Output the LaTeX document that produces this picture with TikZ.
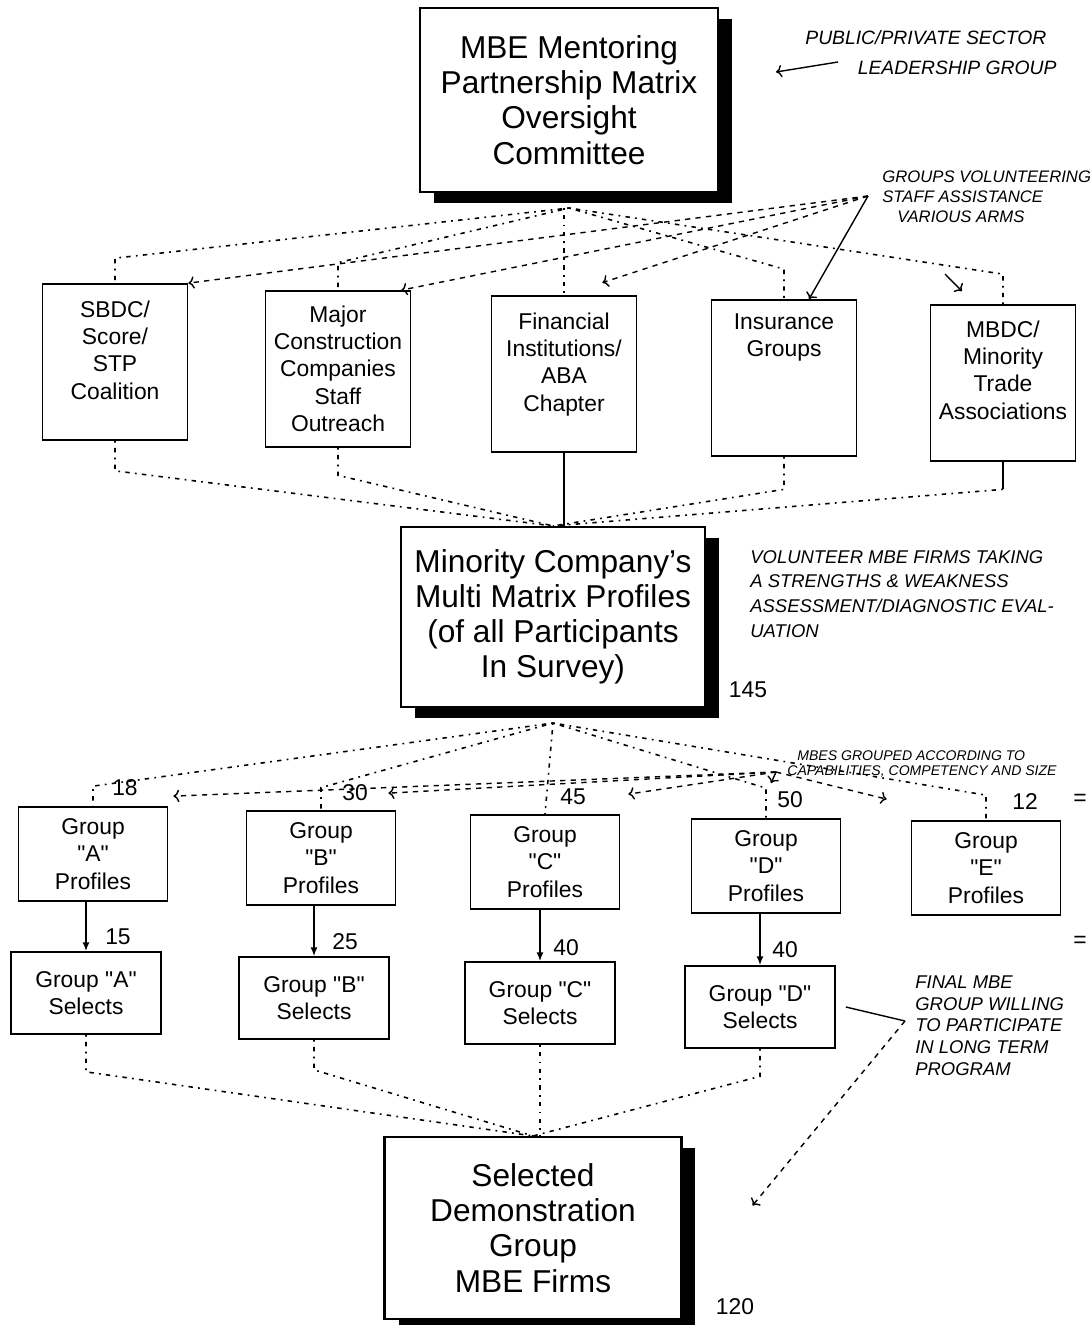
\documentclass[tikz,border=0pt]{standalone}
\usepackage{fontspec}
\setmainfont{Liberation Sans}
\usetikzlibrary{shadows,arrows.meta}
\newcommand\grp[1]{\textquotedbl#1\textquotedbl}

\begin{document}
\begin{tikzpicture}[x=0.02cm, y=-0.02cm,
  bigbox/.style={draw, line width=1.2pt, fill=white, align=center,
    font=\fontsize{18}{20}\selectfont,
    drop shadow={shadow xshift=0.28cm, shadow yshift=-0.22cm, fill=black, opacity=1}},
  tallbox/.style={draw, line width=1pt, fill=white, minimum width=2.9cm, minimum height=3.12cm},
  boxtext/.style={anchor=north, inner sep=0pt, align=center, font=\fontsize{13}{15.6}\selectfont},
  profbox/.style={draw, line width=1pt, fill=white, align=center, minimum width=2.98cm,
    minimum height=1.88cm, font=\fontsize{13}{15.6}\selectfont},
  selbox/.style={draw, line width=1pt, fill=white, align=center, minimum width=3cm,
    minimum height=1.64cm, font=\fontsize{13}{15.6}\selectfont},
  tie/.style={line width=0.9pt, dash pattern=on 1pt off 3pt on 2.5pt off 3pt},
  flow/.style={line width=0.9pt, -{Latex[length=5pt,width=4pt]}},
  scrawl/.style={line width=0.8pt},
  count/.style={font=\fontsize{13}{15}\selectfont},
  note/.style={anchor=north west, inner sep=0pt, align=left, font=\fontsize{10.5}{12.5}\selectfont\itshape}]
\path[use as bounding box, fill=white] (0,0) rectangle (1091,1325);

% boxes
\node[bigbox, minimum width=5.96cm, minimum height=3.68cm] (top) at (569,100)
  {MBE Mentoring\\Partnership Matrix\\Oversight\\Committee};

\node[tallbox] (sbdc) at (115,362) {};
\node[tallbox] (major) at (338,369) {};
\node[tallbox] (fin) at (564,374) {};
\node[tallbox] (ins) at (784,378) {};
\node[tallbox] (mbdc) at (1003,383) {};
\node[boxtext] (sbdc-t) at ([yshift=-0.34cm]sbdc.north) {SBDC/\\Score/\\STP\\Coalition};
\node[boxtext] (major-t) at ([yshift=-0.3cm]major.north) {Major\\Construction\\Companies\\Staff\\Outreach};
\node[boxtext] (fin-t) at ([yshift=-0.34cm]fin.north) {Financial\\Institutions/\\ABA\\Chapter};
\node[boxtext] (ins-t) at ([yshift=-0.28cm]ins.north) {Insurance\\Groups};
\node[boxtext] (mbdc-t) at ([yshift=-0.32cm]mbdc.north) {MBDC/\\Minority\\Trade\\Associations};

\node[bigbox, minimum width=6.08cm, minimum height=3.6cm] (mid) at (553,617)
  {Minority Company's\\Multi Matrix Profiles\\(of all Participants\\In Survey)};

\node[profbox] (gA) at (93,854) {Group\\\grp{A}\\Profiles};
\node[profbox] (gB) at (321,858) {Group\\\grp{B}\\Profiles};
\node[profbox] (gC) at (545,862) {Group\\\grp{C}\\Profiles};
\node[profbox] (gD) at (766,866) {Group\\\grp{D}\\Profiles};
\node[profbox] (gE) at (986,868) {Group\\\grp{E}\\Profiles};

\node[selbox] (sA) at (86,993) {Group \grp{A}\\Selects};
\node[selbox] (sB) at (314,998) {Group \grp{B}\\Selects};
\node[selbox] (sC) at (540,1003) {Group \grp{C}\\Selects};
\node[selbox] (sD) at (760,1007) {Group \grp{D}\\Selects};

\node[bigbox, minimum width=5.94cm, minimum height=3.64cm] (bot) at (533,1228)
  {Selected\\Demonstration\\Group\\MBE Firms};

% top -> second row
\coordinate (hub1) at ([yshift=-0.3cm]top.south);
\draw[tie] (hub1) -- ([yshift=0.5cm]sbdc.north) -- (sbdc.north);
\draw[tie] (hub1) -- ([yshift=0.55cm]major.north) -- (major.north);
\draw[tie] (fin.north |- hub1) -- (fin.north);
\draw[tie] (hub1) -- ([yshift=0.6cm]ins.north) -- (ins.north);
\draw[tie] (hub1) -- ([yshift=0.6cm]mbdc.north) -- (mbdc.north);

% second row -> middle
\draw[tie] (sbdc.south) -- ([yshift=-0.6cm]sbdc.south) -- (mid.north);
\draw[tie] (major.south) -- ([yshift=-0.55cm]major.south) -- (mid.north);
\draw[line width=0.9pt] (fin.south) -- (fin.south |- mid.north);
\draw[tie] (ins.south) -- ([yshift=-0.65cm]ins.south) -- (mid.north);
\draw[line width=0.9pt] (mbdc.south) -- ([yshift=-0.55cm]mbdc.south);
\draw[tie] ([yshift=-0.55cm]mbdc.south) -- (mid.north);

% middle -> groups
\coordinate (hub3) at ([yshift=-0.3cm]mid.south);
\draw[tie] (hub3) -- ([yshift=0.4cm]gA.north) -- (gA.north);
\draw[tie] (hub3) -- ([yshift=0.45cm]gB.north) -- (gB.north);
\draw[tie] (hub3) -- (gC.north);
\draw[tie] (hub3) -- ([yshift=0.6cm]gD.north) -- (gD.north);
\draw[tie] (hub3) -- ([yshift=0.5cm]gE.north) -- (gE.north);

% profiles -> selects
\draw[flow] (sA.north |- gA.south) -- (sA.north);
\draw[flow] (sB.north |- gB.south) -- (sB.north);
\draw[flow] (sC.north |- gC.south) -- (sC.north);
\draw[flow] (sD.north |- gD.south) -- (sD.north);

% selects -> bottom
\draw[tie] (sA.south) -- ([yshift=-0.74cm]sA.south) -- (bot.north);
\draw[tie] (sB.south) -- ([yshift=-0.6cm]sB.south) -- (bot.north);
\draw[tie] (sC.south) -- (sC.south |- bot.north);
\draw[tie] (sD.south) -- ([yshift=-0.55cm]sD.south) -- (bot.north);

% counts
\node[count] (n18) at (125,788) {18};
\node[count] (n30) at (355,793) {30};
\node[count] (n45) at (573,797) {45};
\node[count] (n50) at (790,800) {50};
\node[count] (n12) at (1025,802) {12};
\node[count] (n15) at (118,937) {15};
\node[count] (n25) at (345,942) {25};
\node[count] (n40c) at (566,948) {40};
\node[count] (n40d) at (785,950) {40};
\node[count] (n145) at (748,690) {145};
\node[count] (n120) at (735,1307) {120};
\node[count] (eq1) at (1080,800) {=};
\node[count] (eq2) at (1080,942) {=};

% hand notes
\node[note, font=\fontsize{11}{13}\selectfont\itshape] (leadnote) at (805,30)
  {PUBLIC/PRIVATE SECTOR\\[4pt]\hspace*{1.05cm}LEADERSHIP GROUP};
\coordinate (leadfrom) at (838,62);
\coordinate (leadtip) at (776,72);
\draw[scrawl, ->] (leadfrom) -- (leadtip);

\node[note, font=\fontsize{9.5}{11.4}\selectfont\itshape] (staffnote) at (882,170)
  {GROUPS VOLUNTEERING\\STAFF ASSISTANCE\\\hspace*{0.3cm}VARIOUS ARMS};
\coordinate (staffhub) at (868,196);
\draw[scrawl, dashed, ->] (staffhub) -- (sbdc.north east);
\draw[scrawl, dashed, ->] (staffhub) -- ([xshift=-0.2cm]major.north east);
\draw[scrawl, dashed, ->] (staffhub) -- ([xshift=-0.7cm,yshift=0.25cm]fin.north east);
\draw[scrawl, ->] (staffhub) -- ([xshift=0.5cm]ins.north);
\coordinate (mbdcfrom) at (945,274);
\draw[scrawl, ->] (mbdcfrom) -- ([xshift=-0.82cm,yshift=0.26cm]mbdc.north);

\node[note] (surveynote) at (750,550)
  {VOLUNTEER MBE FIRMS TAKING\\[1.5pt]A STRENGTHS \& WEAKNESS\\[1.5pt]ASSESSMENT/DIAGNOSTIC EVAL-\\[1.5pt]UATION};

\node[note, font=\fontsize{8}{8.6}\selectfont\itshape] (gradenote) at (797,750)
  {MBES GROUPED ACCORDING TO\\\hspace*{-0.2cm}CAPABILITIES, COMPETENCY AND SIZE};
\coordinate (gradehub) at (776,772);
\draw[scrawl, dashed, ->] (gradehub) -- ([xshift=0.1cm,yshift=0.2cm]gA.north east);
\draw[scrawl, dashed, ->] (gradehub) -- ([xshift=-0.16cm,yshift=0.34cm]gB.north east);
\draw[scrawl, dashed, ->] (gradehub) -- ([xshift=0.16cm,yshift=0.4cm]gC.north east);
\draw[scrawl, ->] (gradehub) -- ([xshift=0.1cm,yshift=0.7cm]gD.north);
\draw[scrawl, dashed, ->] (gradehub) -- ([xshift=-0.48cm,yshift=0.42cm]gE.north west);

\node[note] (finalnote) at (915,975)
  {FINAL MBE\\GROUP WILLING\\TO PARTICIPATE\\IN LONG TERM\\PROGRAM};
\coordinate (finalhub) at (905,1021);
\draw[scrawl] ([xshift=0.2cm]sD.east) -- (finalhub);
\draw[scrawl, dashed, ->] (finalhub) -- ([xshift=1.4cm,yshift=0.45cm]bot.east);
\end{tikzpicture}
\end{document}
